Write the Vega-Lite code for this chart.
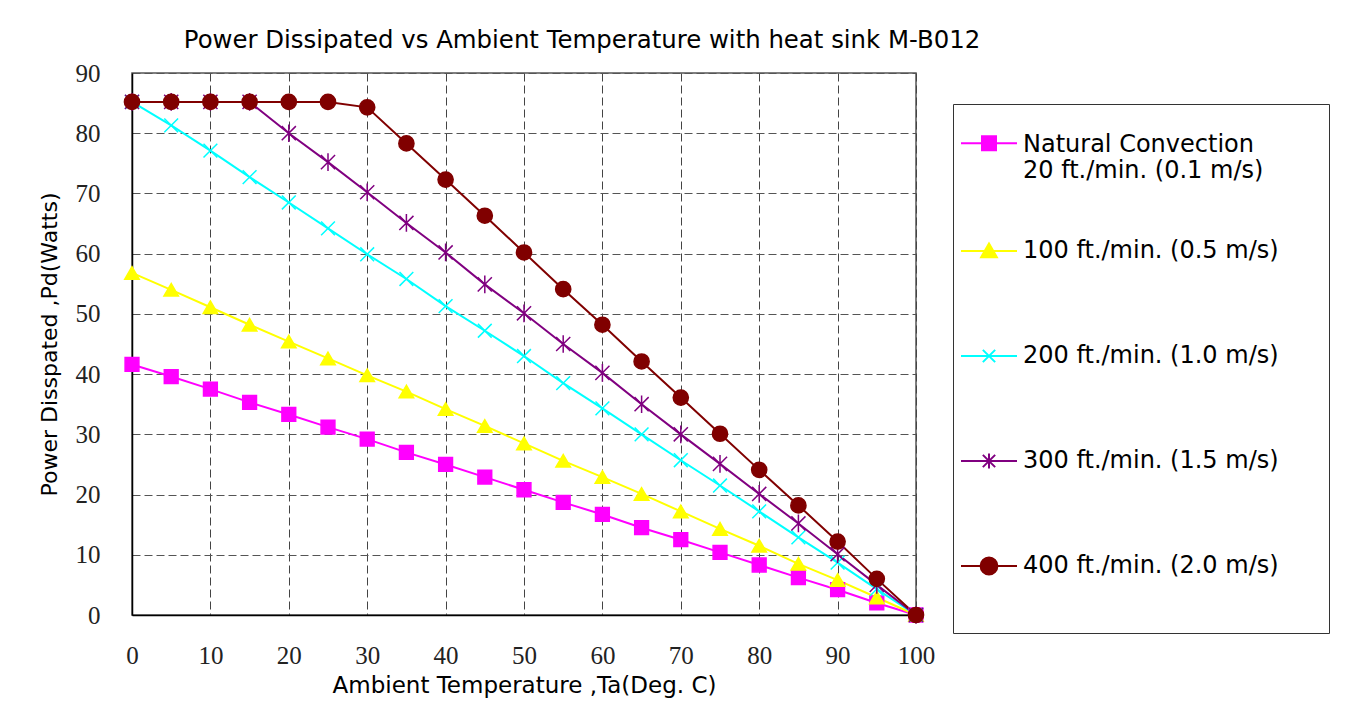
{
  "$schema": "https://vega.github.io/schema/vega-lite/v6.json",
  "width": 784,
  "height": 542,
  "autosize": {"type": "none"},
  "padding": {"left": 132, "top": 73, "right": 443, "bottom": 89},
  "background": "white",
  "title": {
    "text": "Power Dissipated vs Ambient Temperature with heat sink M-B012",
    "anchor": "middle",
    "frame": "group",
    "dx": 58,
    "offset": 8,
    "font": "DejaVu Sans",
    "fontSize": 24.4,
    "fontWeight": "normal",
    "color": "#000"
  },
  "data": {
    "values": [
      {"T": 0, "nat": 41.6, "f100": 56.8, "f200": 85.2, "f300": 85.2, "f400": 85.2},
      {"T": 5, "nat": 39.6, "f100": 54.0, "f200": 81.3, "f300": 85.2, "f400": 85.2},
      {"T": 10, "nat": 37.5, "f100": 51.1, "f200": 77.1, "f300": 85.2, "f400": 85.2},
      {"T": 15, "nat": 35.3, "f100": 48.2, "f200": 72.7, "f300": 85.2, "f400": 85.2},
      {"T": 20, "nat": 33.3, "f100": 45.4, "f200": 68.5, "f300": 80.0, "f400": 85.2},
      {"T": 25, "nat": 31.2, "f100": 42.6, "f200": 64.2, "f300": 75.2, "f400": 85.2},
      {"T": 30, "nat": 29.2, "f100": 39.8, "f200": 59.9, "f300": 70.2, "f400": 84.3},
      {"T": 35, "nat": 27.0, "f100": 37.1, "f200": 55.8, "f300": 65.1, "f400": 78.3},
      {"T": 40, "nat": 25.0, "f100": 34.2, "f200": 51.3, "f300": 60.2, "f400": 72.3},
      {"T": 45, "nat": 22.9, "f100": 31.4, "f200": 47.2, "f300": 54.9, "f400": 66.3},
      {"T": 50, "nat": 20.8, "f100": 28.5, "f200": 43.0, "f300": 50.1, "f400": 60.2},
      {"T": 55, "nat": 18.7, "f100": 25.6, "f200": 38.5, "f300": 45.0, "f400": 54.1},
      {"T": 60, "nat": 16.7, "f100": 22.9, "f200": 34.3, "f300": 40.2, "f400": 48.2},
      {"T": 65, "nat": 14.5, "f100": 20.1, "f200": 30.0, "f300": 35.0, "f400": 42.1},
      {"T": 70, "nat": 12.5, "f100": 17.2, "f200": 25.7, "f300": 30.0, "f400": 36.1},
      {"T": 75, "nat": 10.4, "f100": 14.3, "f200": 21.5, "f300": 25.1, "f400": 30.1},
      {"T": 80, "nat": 8.3, "f100": 11.5, "f200": 17.2, "f300": 20.1, "f400": 24.1},
      {"T": 85, "nat": 6.2, "f100": 8.5, "f200": 12.9, "f300": 15.2, "f400": 18.2},
      {"T": 90, "nat": 4.2, "f100": 5.8, "f200": 8.7, "f300": 10.1, "f400": 12.2},
      {"T": 95, "nat": 2.0, "f100": 2.9, "f200": 4.3, "f300": 5.0, "f400": 6.0},
      {"T": 100, "nat": 0, "f100": 0, "f200": 0, "f300": 0, "f400": 0}
    ]
  },
  "transform": [{"fold": ["nat", "f100", "f200", "f300", "f400"], "as": ["series", "P"]}],
  "encoding": {
    "x": {
      "field": "T",
      "type": "quantitative",
      "scale": {"domain": [0, 100], "nice": false, "zero": false},
      "axis": {
        "values": [0, 10, 20, 30, 40, 50, 60, 70, 80, 90, 100],
        "grid": true,
        "gridDash": [8, 4],
        "gridColor": "#444",
        "gridWidth": 1,
        "ticks": false,
        "tickSize": 0,
        "labelFont": "Liberation Serif",
        "labelFontSize": 25,
        "labelColor": "#222",
        "labelPadding": 28,
        "labelFlush": false,
        "labelOverlap": false,
        "domainColor": "#000",
        "domainWidth": 1.5,
        "title": "Ambient Temperature ,Ta(Deg. C)",
        "titleFont": "DejaVu Sans",
        "titleFontSize": 23,
        "titleFontWeight": "normal",
        "titleColor": "#000",
        "titlePadding": 6
      }
    },
    "y": {
      "field": "P",
      "type": "quantitative",
      "scale": {"domain": [0, 90], "nice": false},
      "axis": {
        "values": [0, 10, 20, 30, 40, 50, 60, 70, 80, 90],
        "grid": true,
        "gridDash": [8, 4],
        "gridColor": "#555",
        "gridWidth": 1,
        "ticks": false,
        "tickSize": 0,
        "labelFont": "Liberation Serif",
        "labelFontSize": 25,
        "labelColor": "#222",
        "labelPadding": 32,
        "labelFlush": false,
        "labelOverlap": false,
        "domainColor": "#000",
        "domainWidth": 1.5,
        "title": "Power Disspated ,Pd(Watts)",
        "titleFont": "DejaVu Sans",
        "titleFontSize": 22,
        "titleFontWeight": "normal",
        "titleColor": "#000",
        "titlePadding": 14
      }
    }
  },
  "layer": [
    {
      "mark": {"type": "line", "strokeWidth": 2},
      "encoding": {
        "color": {
          "field": "series",
          "type": "nominal",
          "scale": {
            "domain": ["nat", "f100", "f200", "f300", "f400"],
            "range": ["#FF00FF", "#FFFF00", "#00FFFF", "#800080", "#800000"]
          },
          "legend": {
            "orient": "none",
            "legendX": 821,
            "legendY": 31,
            "direction": "vertical",
            "title": null,
            "padding": 7,
            "rowPadding": 9,
            "strokeColor": "#333",
            "fillColor": "white",
            "symbolSize": 3136,
            "symbolStrokeWidth": 2,
            "labelOffset": 5,
            "labelFont": "DejaVu Sans",
            "labelFontSize": 24,
            "labelColor": "#000",
            "labelLimit": 400,
            "labelExpr": "datum.value == 'nat' ? ['Natural Convection', '20 ft./min. (0.1 m/s)'] : datum.value == 'f100' ? '100 ft./min. (0.5 m/s)' : datum.value == 'f200' ? '200 ft./min. (1.0 m/s)' : datum.value == 'f300' ? '300 ft./min. (1.5 m/s)' : '400 ft./min. (2.0 m/s)'",
            "encode": {
              "symbols": {
                "update": {
                  "shape": {"signal": "datum.value == 'nat' ? 'M-1,0.12H1M-0.25,-0.13H0.25V0.37H-0.25ZM0,1.76L0,1.76M11.72,0L11.72,0' : datum.value == 'f100' ? 'M-1,0H1M0,-0.27L0.28,0.22H-0.28ZM0,-1.571L0,-1.571M0,1.571L0,1.571' : datum.value == 'f200' ? 'M-1,0H1M-0.22,-0.22L0.22,0.22M-0.22,0.22L0.22,-0.22M0,-1.571L0,-1.571M0,1.571L0,1.571' : datum.value == 'f300' ? 'M-1,0H1M-0.22,-0.22L0.22,0.22M-0.22,0.22L0.22,-0.22M0,-0.27V0.27M0,-1.571L0,-1.571M0,1.571L0,1.571' : 'M-1,0H1M-0.3,0A0.3,0.3,0,1,1,0.3,0A0.3,0.3,0,1,1,-0.3,0ZM0,-1.571L0,-1.571M0,2.0L0,2.0'"},
                  "fill": {"scale": "color", "field": "value"},
                  "stroke": {"scale": "color", "field": "value"},
                  "opacity": {"value": 1}
                }
              },
              "labels": {
                "update": {
                  "lineHeight": {"value": 26},
                  "dy": {"signal": "datum.value == 'nat' ? 5.4 : 0"}
                }
              }
            }
          }
        }
      }
    },
    {
      "transform": [{"filter": {"field": "series", "equal": "nat"}}],
      "mark": {"type": "point", "shape": "square", "size": 190, "filled": true, "opacity": 1, "fill": "#FF00FF", "stroke": "#FF00FF", "strokeWidth": 1.5}
    },
    {
      "transform": [{"filter": {"field": "series", "equal": "f100"}}],
      "mark": {"type": "point", "shape": "triangle-up", "size": 210, "filled": true, "opacity": 1, "fill": "#FFFF00", "stroke": "#FFFF00", "strokeWidth": 1.5}
    },
    {
      "transform": [{"filter": {"field": "series", "equal": "f200"}}],
      "mark": {"type": "point", "shape": "M-1,-1L1,1M-1,1L1,-1", "size": 190, "filled": false, "opacity": 1, "fill": "#00FFFF", "stroke": "#00FFFF", "strokeWidth": 1.5}
    },
    {
      "transform": [{"filter": {"field": "series", "equal": "f300"}}],
      "mark": {"type": "point", "shape": "M-1,-1L1,1M-1,1L1,-1M0,-1.25L0,1.25", "size": 200, "filled": false, "opacity": 1, "fill": "#800080", "stroke": "#800080", "strokeWidth": 1.5}
    },
    {
      "transform": [{"filter": {"field": "series", "equal": "f400"}}],
      "mark": {"type": "point", "shape": "circle", "size": 230, "filled": true, "opacity": 1, "fill": "#800000", "stroke": "#800000", "strokeWidth": 1.5}
    }
  ],
  "config": {
    "view": {"stroke": "#555", "strokeWidth": 1.5}
  }
}
